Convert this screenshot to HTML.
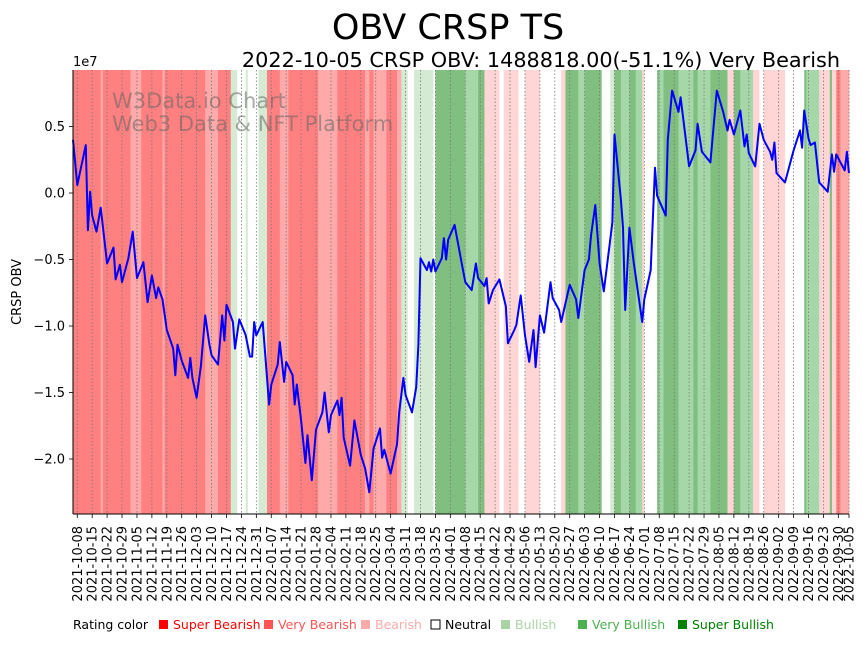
<!DOCTYPE html>
<html><head><meta charset="utf-8"><style>
body{margin:0;background:#fff;font-family:"Liberation Sans","DejaVu Sans",sans-serif;}
svg text{font-family:"DejaVu Sans","Liberation Sans",sans-serif;}
</style></head><body>
<svg id="c" width="867" height="641" viewBox="0 0 867 641" xmlns="http://www.w3.org/2000/svg">
<text x="448" y="39" font-size="35" text-anchor="middle">OBV CRSP TS</text>
<text x="840" y="67" font-size="20.8" text-anchor="end">2022-10-05 CRSP OBV: 1488818.00(-51.1%) Very Bearish</text>
<g id="bands"></g>
<g id="grid"></g>
<text x="112" y="108" font-size="21" fill="rgba(100,100,100,0.55)">W3Data.io Chart</text>
<text x="112" y="131" font-size="21" fill="rgba(100,100,100,0.55)">Web3 Data &amp; NFT Platform</text>
<path id="line" fill="none" stroke="#0000ff" stroke-width="2" stroke-linejoin="round"/>
<g id="axes"></g>
<text x="73" y="66" font-size="13">1e7</text>
<text transform="translate(21,292) rotate(-90)" font-size="13" text-anchor="middle">CRSP OBV</text>
<g id="legend"></g>
</svg>
<script>
const days=[-2,0,4,5,6,7,9,11,14,17,18,20,21,24,26,28,31,33,35,37,38,40,42,45,46,47,49,52,53,54,56,58,60,62,63,66,68,69,70,73,74,76,79,81,82,83,84,87,90,91,94,95,97,98,101,102,103,105,107,108,110,112,115,116,118,119,122,123,124,125,128,130,133,135,137,139,142,143,144,147,150,151,153,154,157,159,160,161,164,165,166,167,168,171,172,173,174,177,180,182,185,187,188,191,192,193,195,198,201,202,205,206,208,210,212,214,215,217,219,222,223,226,227,231,234,235,238,240,241,243,245,247,251,252,255,256,257,259,261,265,266,269,271,272,276,277,279,282,283,287,290,291,293,297,300,303,305,306,308,309,311,313,314,315,318,320,322,325,326,327,328,332,336,339,340,341,343,344,346,348,352,354,355,356,360,361,362];
const obv=[0.40,0.06,0.36,-0.28,0.01,-0.17,-0.29,-0.11,-0.53,-0.41,-0.65,-0.54,-0.67,-0.49,-0.29,-0.64,-0.52,-0.82,-0.62,-0.79,-0.71,-0.80,-1.03,-1.17,-1.37,-1.14,-1.26,-1.39,-1.24,-1.39,-1.54,-1.30,-0.92,-1.14,-1.22,-1.29,-0.92,-1.11,-0.84,-0.97,-1.17,-0.95,-1.07,-1.23,-1.23,-0.97,-1.07,-0.97,-1.59,-1.44,-1.29,-1.12,-1.42,-1.27,-1.37,-1.59,-1.44,-1.71,-2.03,-1.82,-2.16,-1.78,-1.65,-1.50,-1.80,-1.67,-1.56,-1.67,-1.54,-1.84,-2.05,-1.71,-1.97,-2.07,-2.25,-1.92,-1.77,-1.99,-1.93,-2.11,-1.89,-1.65,-1.39,-1.52,-1.65,-1.46,-1.14,-0.49,-0.58,-0.52,-0.59,-0.50,-0.59,-0.49,-0.34,-0.50,-0.35,-0.24,-0.50,-0.67,-0.73,-0.53,-0.64,-0.70,-0.64,-0.83,-0.73,-0.65,-0.85,-1.13,-1.03,-0.99,-0.77,-1.07,-1.27,-1.03,-1.31,-0.92,-1.05,-0.67,-0.79,-0.88,-0.97,-0.69,-0.80,-0.94,-0.58,-0.50,-0.32,-0.09,-0.53,-0.74,-0.22,0.44,-0.05,-0.26,-0.88,-0.26,-0.52,-0.97,-0.80,-0.58,0.19,-0.02,-0.17,0.40,0.77,0.61,0.72,0.20,0.32,0.52,0.31,0.23,0.77,0.61,0.47,0.55,0.44,0.50,0.62,0.35,0.44,0.30,0.20,0.52,0.40,0.31,0.25,0.38,0.15,0.08,0.32,0.47,0.34,0.62,0.41,0.36,0.38,0.08,0.01,0.29,0.16,0.29,0.17,0.31,0.15];
const bandStart=[-2,11,12,25,30,40,41,60,66,72,75,79,80,85,89,95,99,113,122,135,137,139,145,150,152,155,158,167,168,182,188,191,198,200,207,210,217,227,229,235,238,246,250,252,255,259,262,265,266,272,273,275,282,289,291,297,305,308,311,317,320,322,332,341,342,348,353,354,356,358];
const bandEnd=[11,12,25,30,40,41,60,66,72,75,79,80,85,89,95,99,113,122,135,137,139,145,150,152,155,158,167,168,182,188,191,198,200,207,210,217,227,229,235,238,246,250,252,255,259,262,265,266,272,273,275,282,289,291,297,305,308,311,317,320,322,332,341,342,348,353,354,356,358,362];
const bandRating=[-3,-2,-3,-2,-3,-2,-3,-2,-3,1,0,1,0,1,-3,-2,-3,-2,-3,-2,-3,-2,-3,-2,1,0,1,0,3,2,3,-1,0,-1,0,-1,0,-1,3,2,3,0,1,3,2,3,2,-1,0,3,2,3,2,3,2,3,-1,3,2,-1,0,-1,0,3,2,-1,3,-1,-3,-2];
const tickLabels=["2021-10-08","2021-10-15","2021-10-22","2021-10-29","2021-11-05","2021-11-12","2021-11-19","2021-11-26","2021-12-03","2021-12-10","2021-12-17","2021-12-24","2021-12-31","2022-01-07","2022-01-14","2022-01-21","2022-01-28","2022-02-04","2022-02-11","2022-02-18","2022-02-25","2022-03-04","2022-03-11","2022-03-18","2022-03-25","2022-04-01","2022-04-08","2022-04-15","2022-04-22","2022-04-29","2022-05-06","2022-05-13","2022-05-20","2022-05-27","2022-06-03","2022-06-10","2022-06-17","2022-06-24","2022-07-01","2022-07-08","2022-07-15","2022-07-22","2022-07-29","2022-08-05","2022-08-12","2022-08-19","2022-08-26","2022-09-02","2022-09-09","2022-09-16","2022-09-23","2022-09-30","2022-10-05"];
const yTicks=[0.5,0.0,-0.5,-1.0,-1.5,-2.0];
const legendNames=["Super Bearish","Very Bearish","Bearish","Neutral","Bullish","Very Bullish","Super Bullish"];
const legendColors=["#ff0000","#ff5555","#ffaaaa","#ffffff","#aad4a5","#4caf50","#008000"];
const bandColor={"-3":"#ff8080","-2":"#ffaaaa","-1":"#ffd5d5","0":"#ffffff","1":"#d4ead2","2":"#a6d7a8","3":"#80bf80"};

const X0=73,X1=849,Y0=70,Y1=514;
const D0=-2,D1=362;
const t0=Date.UTC(2021,9,8);
const xs=d=>X0+(d-D0)/(D1-D0)*(X1-X0);
const ys=v=>193-v*133;
const NS="http://www.w3.org/2000/svg";
function mk(tag,attrs,parent){const e=document.createElementNS(NS,tag);for(const k in attrs)e.setAttribute(k,attrs[k]);parent.appendChild(e);return e;}

const gb=document.getElementById('bands');
for(let i=0;i<bandStart.length;i++){
  const r=mk('rect',{x:xs(bandStart[i]),y:Y0,width:xs(bandEnd[i])-xs(bandStart[i])+0.3,height:Y1-Y0,fill:bandColor[bandRating[i]]},gb);
  
  
}
const gg=document.getElementById('grid'),ga=document.getElementById('axes');
tickLabels.forEach(lbl=>{
  const p=lbl.split('-');const d=(Date.UTC(+p[0],+p[1]-1,+p[2])-t0)/86400000;
  const x=xs(d);
  const l=mk('line',{x1:x,x2:x,y1:Y0,y2:Y1,stroke:'#777','stroke-width':0.8,'stroke-dasharray':'1.5,2'},gg);
  
  
  const tk=mk('line',{x1:x,x2:x,y1:Y1,y2:Y1+4,stroke:'#000','stroke-width':0.8},ga);
  
  
  const t=mk('text',{transform:`translate(${x+4.5},${Y1+12}) rotate(-90)`,'font-size':13,'text-anchor':'end'},ga);
  t.textContent=lbl;
  
  
});
yTicks.forEach(v=>{
  const y=ys(v);
  const tk=mk('line',{x1:X0-4,x2:X0,y1:y,y2:y,stroke:'#000','stroke-width':0.8},ga);
  
  
  const t=mk('text',{x:X0-8,y:y+4.5,'font-size':13,'text-anchor':'end'},ga);
  t.textContent=(v<0?'\u2212':'')+Math.abs(v).toFixed(1);
  
  
});
const sl=mk('line',{x1:X0,x2:X0,y1:Y0,y2:Y1,stroke:'#000','stroke-width':1},ga);


const sb=mk('line',{x1:X0,x2:X1,y1:Y1,y2:Y1,stroke:'#000','stroke-width':1},ga);



document.getElementById('line').setAttribute('d',days.map((d,i)=>(i?'L':'M')+xs(d).toFixed(1)+','+ys(obv[i]).toFixed(1)).join(''));

const gl=document.getElementById('legend');
const lt=mk('text',{x:73,y:629,'font-size':12.5},gl);
lt.textContent='Rating color';


const lx=[158,263,360,430,500,577,677];
legendNames.forEach((n,i)=>{
  const r=mk('rect',{x:lx[i]+1,y:620,width:9,height:9,fill:legendColors[i],stroke:i==3?'#000':'none','stroke-width':1},gl);
  
  
  const t=mk('text',{x:lx[i]+15,y:629,'font-size':12.5,fill:i==3?'#000':legendColors[i]},gl);
  t.textContent=n;
  
  
});
</script>
</body></html>
